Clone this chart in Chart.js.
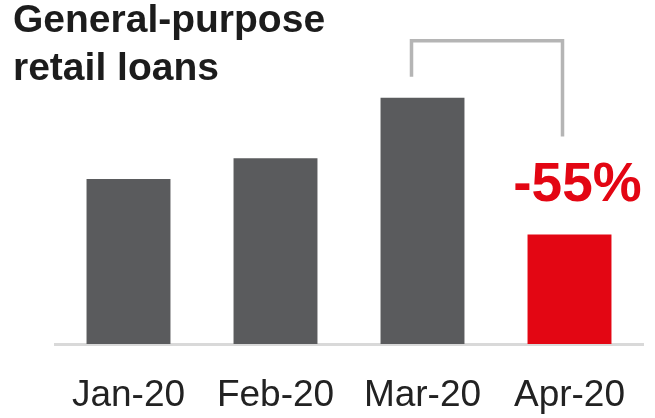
<!DOCTYPE html>
<html>
<head>
<meta charset="utf-8">
<script src="https://cdn.jsdelivr.net/npm/chart.js@4"></script>
<style>
  html, body { margin: 0; padding: 0; background: #fff; }
  #wrap { position: relative; width: 655px; height: 418px; }
</style>
</head>
<body>
<div id="wrap"><canvas id="loans-chart" width="655" height="418"></canvas></div>
<script>
// values, Mar-20 = 100
const months = ['Jan-20', 'Feb-20', 'Mar-20', 'Apr-20'];
const loans = [67, 75.5, 100, 44.5];
const barColors = ['#5a5b5d', '#5a5b5d', '#5a5b5d', '#e30613'];
const titleLines = ['General-purpose', 'retail loans'];
const changeLabel = '-55%';

// bracket from Mar to Apr plus the red change label
const bracketPlugin = {
    id: 'bracket',
    afterDraw(chart) {
        const ctx = chart.ctx;
        const x = chart.scales.x;
        const y = chart.scales.y;
        const marX = x.getPixelForValue(2);
        const aprX = x.getPixelForValue(3);
        const marTop = y.getPixelForValue(loans[2]);
        const aprTop = y.getPixelForValue(loans[3]);

        let leftX = marX - 11;
        let rightX = aprX - 7;
        let topY = marTop - 57;

        ctx.save();
        ctx.strokeStyle = '#b5b5b5';
        ctx.lineWidth = 3.5;
        ctx.lineJoin = 'miter';
        ctx.beginPath();
        ctx.moveTo(leftX, marTop - 21);
        ctx.lineTo(leftX, topY);
        ctx.lineTo(rightX, topY);
        ctx.lineTo(rightX, aprTop - 98);
        ctx.stroke();

        ctx.fillStyle = '#e30613';
        ctx.font = 'bold 55px "Liberation Sans", Arial, sans-serif';
        ctx.textAlign = 'center';
        ctx.textBaseline = 'alphabetic';
        ctx.fillText(changeLabel, aprX + 8, aprTop - 33);

        // title, top left
        ctx.fillStyle = '#1c1c1c';
        ctx.font = 'bold 39px "Liberation Sans", Arial, sans-serif';
        ctx.textAlign = 'left';
        ctx.fillText(titleLines[0], 13, 32);
        ctx.fillText(titleLines[1], 13, 80);
        ctx.restore();
    }
};

new Chart(document.getElementById('loans-chart'), {
    type: 'bar',
    data: {
        labels: months,
        datasets: [{
            data: loans,
            backgroundColor: barColors,
            borderWidth: 0,
            barPercentage: 0.571,
            categoryPercentage: 1
        }]
    },
    options: {
        responsive: false,
        animation: false,
        layout: {
            padding: { left: 55, right: 12, top: 24, bottom: 0 }
        },
        plugins: {
            legend: { display: false },
            title: { display: false },
            tooltip: { enabled: false }
        },
        scales: {
            x: {
                grid: { display: false },
                border: { display: true, color: '#d9d9d9', width: 3 },
                ticks: {
                    color: '#222',
                    padding: 22,
                    font: { family: '"Liberation Sans", Arial, sans-serif', size: 37 }
                },
                afterFit(scale) {
                    scale.height = 74;
                }
            },
            y: {
                display: false,
                min: 0,
                max: 130
            }
        }
    },
    plugins: [bracketPlugin]
});
</script>
</body>
</html>
